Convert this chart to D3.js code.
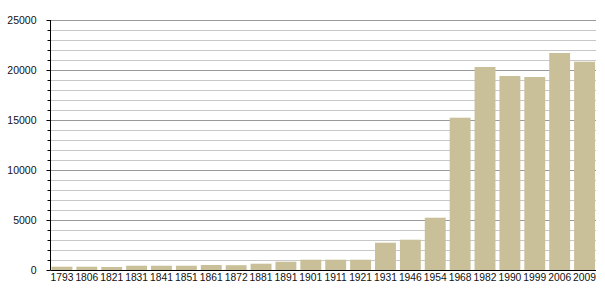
<!DOCTYPE html>
<html><head><meta charset="utf-8">
<script src="https://cdn.jsdelivr.net/npm/d3@7"></script>
<style>body{margin:0;background:#fff}svg{display:block}text{font-family:"Liberation Sans",Arial,sans-serif;fill:#111}</style>
</head><body><svg id="c" width="605" height="300"></svg>
<script>
const years = ["1793","1806","1821","1831","1841","1851","1861","1872","1881","1891","1901","1911","1921","1931","1946","1954","1968","1982","1990","1999","2006","2009"];
const population = [330,330,300,430,430,430,500,480,630,830,1030,1030,1030,2730,3030,5230,15230,20300,19400,19300,21700,20830];
const yTicks = [0,5000,10000,15000,20000,25000];

const svg = d3.select("#c");
const m = {l:50.5, r:596, t:20, b:270};
const x = d3.scaleBand().domain(years).range([m.l, m.r]).paddingInner(0.16).paddingOuter(0.04);
const y = d3.scaleLinear().domain([0,25000]).range([m.b, m.t]);

// grid
const minor = d3.range(1000, 25001, 1000).filter(v => v % 5000 !== 0);
svg.append("g").selectAll("line").data(minor).join("line")
  .attr("x1", m.l).attr("x2", m.r).attr("y1", d=>y(d)+0.5).attr("y2", d=>y(d)+0.5)
  .attr("stroke", "#c8c8c8").attr("stroke-width", 1);
svg.append("g").selectAll("line").data(yTicks.filter(v=>v>0)).join("line")
  .attr("x1", m.l).attr("x2", m.r).attr("y1", d=>y(d)+0.5).attr("y2", d=>y(d)+0.5)
  .attr("stroke", "#999").attr("stroke-width", 1);

// bars
svg.append("g").selectAll("rect").data(years).join("rect")
  .attr("x", d=>x(d)).attr("width", x.bandwidth())
  .attr("y", (d,i)=>y(population[i])).attr("height", (d,i)=>y(0)-y(population[i]))
  .attr("fill", "#c9c09a");

// y axis
const ya = svg.append("g").attr("transform", `translate(${m.l},0)`)
  .call(d3.axisLeft(y).tickValues(yTicks).tickSize(4).tickPadding(10).tickFormat(d3.format("d")));
ya.select(".domain").remove();
ya.selectAll("text").attr("font-size", "10.5px").attr("font-family", null);
ya.selectAll("line").attr("stroke", "#000");
const ym = svg.append("g").attr("transform", `translate(${m.l},0)`)
  .call(d3.axisLeft(y).tickValues(minor).tickSize(3).tickFormat(""));
ym.select(".domain").remove();
ym.selectAll("line").attr("stroke", "#000");
svg.append("line").attr("x1", m.l).attr("x2", m.l).attr("y1", m.t).attr("y2", m.b).attr("stroke", "#000");

// x axis
const xa = svg.append("g").attr("transform", `translate(0,${m.b})`)
  .call(d3.axisBottom(x).tickSize(0).tickPadding(4));
xa.select(".domain").attr("stroke", "#000").attr("d", `M${m.l},0.5H${m.r}`);
xa.selectAll("text").attr("font-size", "10.3px").attr("font-family", null);
</script></body></html>
